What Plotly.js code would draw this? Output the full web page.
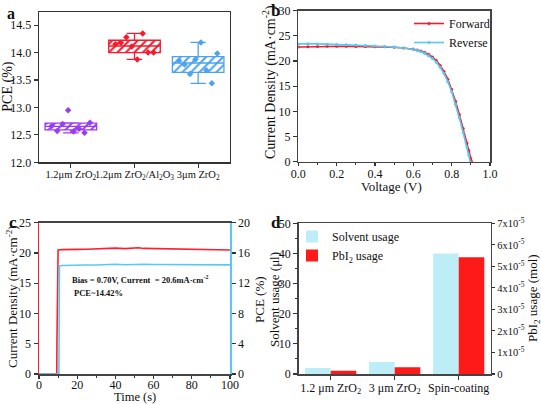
<!DOCTYPE html>
<html>
<head>
<meta charset="utf-8">
<script src="https://cdn.plot.ly/plotly-3.0.1.min.js"></script>
<style>html,body{margin:0;padding:0;background:#fff;}#chart{width:541px;height:404px;}</style>
</head>
<body>
<div id="chart"></div>
<script>
// ---------- Panel a: PCE box plots ----------
const catA = ['1.2μm ZrO<sub>2</sub>', '1.2μm ZrO<sub>2</sub>/Al<sub>2</sub>O<sub>3</sub>', '3μm ZrO<sub>2</sub>'];
const catAPos = [1, 2, 3];
const boxQ1 = [12.59, 14.00, 13.64];
const boxMedian = [12.655, 14.12, 13.81];
const boxQ3 = [12.715, 14.225, 13.925];
const boxLow = [12.535, 13.875, 13.44];
const boxHigh = [12.72, 14.35, 14.185];
const pcePurple = [12.66, 12.57, 12.70, 12.95, 12.56, 12.61, 12.54, 12.72];
const pceRed = [14.15, 14.18, 14.28, 14.11, 13.875, 14.35, 14.00, 14.00];
const pceBlue = [13.85, 13.785, 13.61, 13.875, 14.185, 13.68, 13.44, 13.985];

// ---------- Panel b: J-V curves ----------
const voltF = [0,0.05,0.1,0.15,0.2,0.25,0.3,0.35,0.4,0.45,0.5,0.55,0.6,0.62,0.64,0.66,0.68,0.7,0.72,0.74,0.76,0.78,0.8,0.82,0.84,0.86,0.88,0.89,0.9,0.905];
const jForward = [22.8,22.85,22.9,22.95,22.95,22.95,22.9,22.9,22.85,22.85,22.75,22.6,22.4,22.2,22.0,21.7,21.3,20.8,20.1,19.1,17.9,16.4,14.4,12.0,9.4,6.6,3.7,2.2,0.6,0];
const voltR = [0,0.05,0.1,0.15,0.2,0.25,0.3,0.35,0.4,0.45,0.5,0.55,0.6,0.62,0.64,0.66,0.68,0.7,0.72,0.74,0.76,0.78,0.8,0.82,0.84,0.86,0.88,0.89,0.897];
const jReverse = [23.4,23.45,23.4,23.35,23.3,23.25,23.2,23.1,23.0,22.9,22.8,22.6,22.3,22.1,21.85,21.5,21.05,20.5,19.75,18.75,17.5,15.9,13.9,11.4,8.7,5.8,2.9,1.4,0];

// ---------- Panel c: steady-state output ----------
const timeJ = [0, 9.3, 9.4, 9.5, 9.6, 10.0, 12, 15, 20, 25, 30, 35, 38, 40, 45, 50, 52, 55, 60, 65, 70, 75, 80, 85, 90, 95, 100];
const currentJ = [0, 0, 5.5, 10.5, 16.5, 20.5, 20.55, 20.6, 20.6, 20.62, 20.65, 20.7, 20.82, 20.8, 20.72, 20.78, 20.87, 20.75, 20.72, 20.7, 20.7, 20.68, 20.66, 20.65, 20.6, 20.58, 20.5];
const timeP = [0, 10.4, 10.5, 10.6, 10.7, 12, 15, 20, 25, 30, 35, 38, 40, 45, 50, 52, 55, 60, 65, 70, 75, 80, 85, 90, 95, 100];
const pceT = [0, 0, 4, 9, 14.3, 14.35, 14.38, 14.38, 14.4, 14.4, 14.45, 14.52, 14.5, 14.45, 14.5, 14.56, 14.5, 14.48, 14.46, 14.45, 14.45, 14.44, 14.44, 14.43, 14.42, 14.42];

// ---------- Panel d: material usage ----------
const catD = ['1.2 μm ZrO<sub>2</sub>', '3 μm ZrO<sub>2</sub>', 'Spin-coating'];
const catDPos = [0, 1, 2];
const solventUsage = [2, 4, 40];
const pbi2Usage = [1.55e-6, 3.1e-6, 5.42e-5];
const rightTickVals = [0, 1e-5, 2e-5, 3e-5, 4e-5, 5e-5, 6e-5, 7e-5];
const rightTickText = ['0', '1x10<sup>-5</sup>', '2x10<sup>-5</sup>', '3x10<sup>-5</sup>', '4x10<sup>-5</sup>', '5x10<sup>-5</sup>', '6x10<sup>-5</sup>', '7x10<sup>-5</sup>'];

// ---------- styles ----------
const PURPLE = '#9a3cf0', RED = '#f31c2e', BLUE = '#4ea3f0', CYAN = '#58c9f2', LCYAN = '#bdeef8', BRED = '#ff1a1a';
const groupColors = [PURPLE, RED, BLUE];
const groupPoints = [pcePurple, pceRed, pceBlue];
const boxW = 0.81;

const traces = [];
groupColors.forEach((col, g) => {
  traces.push({
    type: 'bar', x: [catAPos[g]], base: [boxQ1[g]], y: [boxQ3[g] - boxQ1[g]], width: boxW,
    marker: {color: col, line: {width: 0}, pattern: {shape: '/', fgcolor: col, bgcolor: 'white', size: 6, solidity: 0.35}},
    xaxis: 'x', yaxis: 'y', showlegend: false, hoverinfo: 'skip'
  });
  traces.push({
    type: 'box', x: [catAPos[g]], q1: [boxQ1[g]], median: [boxMedian[g]], q3: [boxQ3[g]],
    lowerfence: [boxLow[g]], upperfence: [boxHigh[g]], width: boxW, whiskerwidth: 0.3,
    line: {color: col, width: 1.3}, fillcolor: 'rgba(0,0,0,0)', boxpoints: false,
    xaxis: 'x', yaxis: 'y', showlegend: false, hoverinfo: 'skip'
  });
  const vals = groupPoints[g];
  const n = vals.length;
  traces.push({
    type: 'scatter', mode: 'markers',
    x: vals.map((_, i) => catAPos[g] - 0.3 + 0.6 * i / (n - 1)), y: vals,
    marker: {color: col, size: 5, symbol: 'diamond'},
    xaxis: 'x', yaxis: 'y', showlegend: false, hoverinfo: 'skip'
  });
});

traces.push({type: 'scatter', mode: 'lines+markers', name: 'Forward', x: voltF, y: jForward,
  line: {color: RED, width: 1.6}, marker: {color: RED, size: 3}, xaxis: 'x2', yaxis: 'y2', legend: 'legend'});
traces.push({type: 'scatter', mode: 'lines+markers', name: 'Reverse', x: voltR, y: jReverse,
  line: {color: CYAN, width: 1.6}, marker: {color: CYAN, size: 3}, xaxis: 'x2', yaxis: 'y2', legend: 'legend'});

traces.push({type: 'scatter', mode: 'lines', x: timeJ, y: currentJ, line: {color: '#ff1f2f', width: 1.6},
  xaxis: 'x3', yaxis: 'y3', showlegend: false});
traces.push({type: 'scatter', mode: 'lines', x: timeP, y: pceT, line: {color: CYAN, width: 1.6},
  xaxis: 'x3', yaxis: 'y4', showlegend: false});

traces.push({type: 'bar', name: 'Solvent usage', x: catDPos, y: solventUsage, width: 0.4, offset: -0.4,
  marker: {color: LCYAN, line: {width: 0}}, xaxis: 'x4', yaxis: 'y5', legend: 'legend2'});
traces.push({type: 'bar', name: 'PbI<sub>2</sub> usage', x: catDPos, y: pbi2Usage, width: 0.4, offset: 0,
  marker: {color: BRED, line: {width: 0}}, xaxis: 'x4', yaxis: 'y6', legend: 'legend2'});

const W = 541, H = 404;
const px = v => v / W, py = v => 1 - v / H;
const ax = (o) => Object.assign({showgrid: false, zeroline: false, showline: true, linecolor: '#333', linewidth: 1.3,
  ticks: 'outside', ticklen: 4, tickwidth: 1.1, tickcolor: '#333', tickfont: {size: 12, color: '#111'}, fixedrange: true}, o);

function ann(text, x, y, size, opts) {
  return Object.assign({text: text, xref: 'paper', yref: 'paper', x: px(x), y: py(y), xanchor: 'center', yanchor: 'middle',
    showarrow: false, font: {size: size, color: '#111'}}, opts || {});
}

const layout = {
  width: W, height: H, margin: {l: 0, r: 0, t: 0, b: 0},
  paper_bgcolor: '#fff', plot_bgcolor: '#fff',
  font: {family: '"Liberation Serif", "DejaVu Serif", serif', size: 12, color: '#111'},
  barmode: 'overlay', boxmode: 'overlay',
  xaxis: ax({domain: [px(39), px(230)], range: [0.5, 3.5], tickvals: catAPos, ticktext: catA, tickangle: 0,
    tickfont: {size: 10.5, color: '#111'}, ticklabelstandoff: -2, mirror: true, anchor: 'y'}),
  yaxis: ax({domain: [py(162.3), py(12)], range: [12, 14.74], dtick: 0.5, tick0: 12, tickformat: '.1f', mirror: true, anchor: 'x'}),
  xaxis2: ax({domain: [px(298.3), px(490)], range: [0, 1], dtick: 0.2, tickformat: '.1f', mirror: true, anchor: 'y2', linecolor: '#444', linewidth: 1.5,
    ticklen: 3, ticklabelstandoff: -3, minor: {ticks: 'outside', ticklen: 2, dtick: 0.1, tickcolor: '#333'}}),
  yaxis2: ax({domain: [py(161.7), py(10.7)], range: [0, 30], dtick: 5, mirror: true, anchor: 'x2', linecolor: '#444', linewidth: 1.5}),
  xaxis3: ax({domain: [px(39), px(230)], range: [0, 100], dtick: 20, mirror: true, anchor: 'y3', linecolor: '#444', linewidth: 1.5,
    ticklen: 3, ticklabelstandoff: -4, minor: {ticks: 'outside', ticklen: 2, dtick: 10, tickcolor: '#333'}}),
  yaxis3: ax({domain: [py(374), py(222.7)], range: [0, 25], dtick: 5, anchor: 'x3', linecolor: '#ff1f2f', linewidth: 1.5}),
  yaxis4: ax({overlaying: 'y3', side: 'right', range: [0, 20], dtick: 4, anchor: 'x3', linecolor: CYAN, linewidth: 1.5}),
  xaxis4: ax({domain: [px(298.7), px(490.7)], range: [-0.5, 2.5], tickvals: catDPos, ticktext: catD, tickangle: 0, mirror: true, anchor: 'y5', linecolor: '#444', linewidth: 1.5,
    ticklabelstandoff: -2}),
  yaxis5: ax({domain: [py(374), py(223.3)], range: [0, 50], dtick: 10, anchor: 'x4', linecolor: '#444', linewidth: 1.5,
    minor: {ticks: 'outside', ticklen: 2, dtick: 5, tickcolor: '#333'}}),
  yaxis6: ax({overlaying: 'y5', side: 'right', range: [0, 7e-5], tickvals: rightTickVals, ticktext: rightTickText, anchor: 'x4',
    linecolor: '#444', linewidth: 1.5, ticklen: 3, tickfont: {size: 10.5, color: '#111'}}),
  legend: {x: px(409), y: py(9), xanchor: 'left', yanchor: 'top', bgcolor: 'rgba(0,0,0,0)', font: {size: 12, color: '#111'},
    itemwidth: 30, tracegroupgap: 0},
  legend2: {x: px(292), y: py(222), xanchor: 'left', yanchor: 'top', bgcolor: 'rgba(0,0,0,0)', font: {size: 12, color: '#111'},
    itemwidth: 30, tracegroupgap: 0},
  annotations: [
    ann('<b>a</b>', 11, 13.5, 16),
    ann('<b>b</b>', 275, 10, 17),
    ann('<b>c</b>', 12.5, 222.5, 17),
    ann('<b>d</b>', 276, 222.5, 17),
    ann('PCE (%)', 8, 86.7, 14, {textangle: -90}),
    ann('Current Density (mA·cm<sup>-2</sup>)', 270, 82, 14, {textangle: -90}),
    ann('Voltage (V)', 391.7, 186, 13),
    ann('Current Density (mA·cm<sup>-2</sup>)', 12, 297, 13, {textangle: -90}),
    ann('PCE (%)', 259, 300, 13, {textangle: -90}),
    ann('Time (s)', 135, 397, 12.5),
    ann('<b>Bias = 0.70V, Current  = 20.6mA·cm<sup>-2</sup></b>', 70, 279, 8.5, {xanchor: 'left'}),
    ann('<b>PCE~14.42%</b>', 72, 293, 8.5, {xanchor: 'left'}),
    ann('Solvent usage (μl)', 274, 300, 13, {textangle: -90}),
    ann('PbI<sub>2</sub> usage (mol)', 533, 298, 13, {textangle: -90})
  ]
};

Plotly.newPlot('chart', traces, layout, {staticPlot: true, displayModeBar: false});
</script>
</body>
</html>
